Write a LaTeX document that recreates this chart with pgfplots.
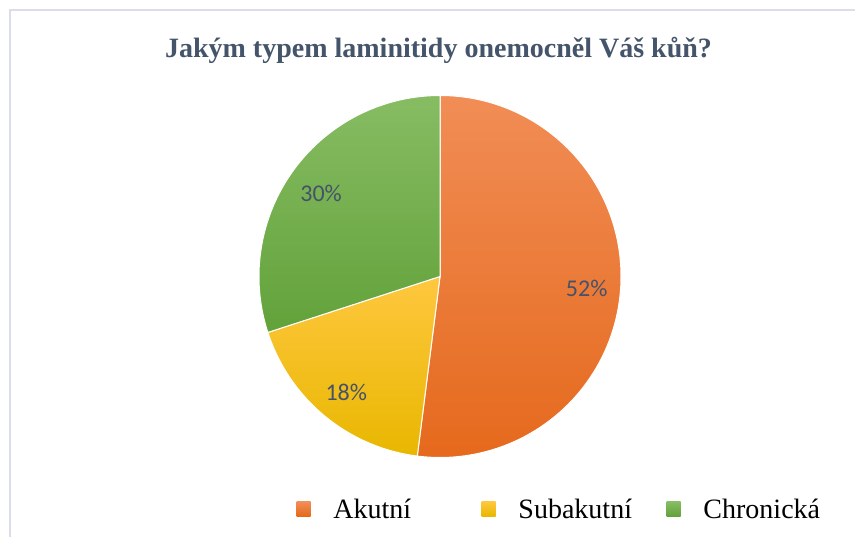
\documentclass[border=0pt]{standalone}
\usepackage{pgfplots}
\pgfplotsset{compat=1.18}
\usepackage{pgfplotstable}
\usepackage{fontspec}
\setmainfont{Liberation Serif}
\newfontfamily\labelfont{Carlito}
\definecolor{titlec}{HTML}{44546A}
\definecolor{labelc}{HTML}{46526A}
\definecolor{top0}{HTML}{F18D56}
\definecolor{bot0}{HTML}{E5691C}
\definecolor{top1}{HTML}{FFC73F}
\definecolor{bot1}{HTML}{E8B700}
\definecolor{top2}{HTML}{87BC63}
\definecolor{bot2}{HTML}{62A23A}
\definecolor{framec}{HTML}{DADEEA}

\pgfplotstableread{
name value
Akutní 52
Subakutní 18
Chronická 30
}\piedata

\begin{document}
\begin{tikzpicture}
\useasboundingbox (0,0) rectangle (855bp,537bp);
\begin{axis}[
  x=1bp, y=1bp, xmin=0, xmax=855, ymin=0, ymax=537,
  hide axis, clip=false, anchor=south west, at={(0,0)},
  legend columns=3,
  legend style={at={(axis cs:296.5,27.5)}, anchor=west, draw=none, fill=none,
    inner sep=0pt, outer sep=0pt,
    font=\fontsize{28bp}{33bp}\selectfont,
    /tikz/every even column/.append style={column sep=0pt},
    nodes={inner sep=0pt}},
]
\draw[framec, line width=1.5bp] (axis cs:10,0) -- (axis cs:10,527) -- (axis cs:855,527);
\node[anchor=base, font=\bfseries\fontsize{28bp}{33bp}\selectfont, text=titlec]
  at (axis cs:438.5,479) {Jakým typem laminitidy onemocněl Váš kůň?};

\def\curangle{90}
\pgfplotsforeachungrouped \i in {0,1,2}{%
  \pgfplotstablegetelem{\i}{value}\of\piedata
  \edef\val{\pgfplotsretval}%
  \pgfmathsetmacro\endang{\curangle-3.6*\val}%
  \pgfmathsetmacro\midang{(\curangle+\endang)/2}%
  \edef\temp{\noexpand\path[draw=white, line width=1bp, top color=top\i, bottom color=bot\i]
    (axis cs:440,260.5) -- ++(\curangle:181bp) arc[start angle=\curangle, end angle=\endang, radius=181bp] -- cycle;
    \noexpand\path (axis cs:440,260.5) ++(\midang:147bp) node[text=labelc, yshift=-3bp,
      font=\noexpand\labelfont\noexpand\fontsize{24bp}{28bp}\noexpand\selectfont] {\val\noexpand\%};}%
  \temp
  \global\let\curangle\endang
}

\addlegendimage{legend image code/.code={\shade[draw=none,top color=top0,bottom color=bot0] (0bp,-6.5bp) rectangle (14bp,7.5bp); \path[draw=none] (0bp,-7bp) -- (37bp,-7bp);}}
\addlegendentry{\makebox[148bp][l]{Akutní}}
\addlegendimage{legend image code/.code={\shade[draw=none,top color=top1,bottom color=bot1] (0bp,-6.5bp) rectangle (14bp,7.5bp); \path[draw=none] (0bp,-7bp) -- (37bp,-7bp);}}
\addlegendentry{\makebox[148bp][l]{Subakutní}}
\addlegendimage{legend image code/.code={\shade[draw=none,top color=top2,bottom color=bot2] (0bp,-6.5bp) rectangle (14bp,7.5bp); \path[draw=none] (0bp,-7bp) -- (37bp,-7bp);}}
\addlegendentry{Chronická}
\end{axis}
\end{tikzpicture}
\end{document}
